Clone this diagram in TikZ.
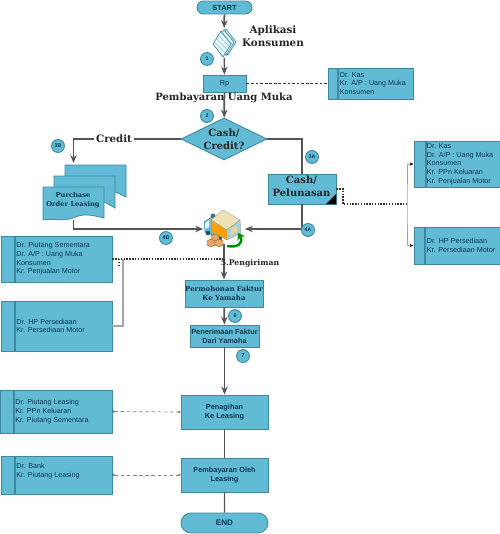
\documentclass[tikz,border=0pt]{standalone}
\usepackage{fontspec}
\setmainfont{Liberation Sans}
\newfontfamily\headfont{DejaVu Serif}
\usetikzlibrary{arrows.meta,shapes.geometric,shapes.misc,patterns}
\definecolor{boxfill}{HTML}{62BBD4}
\definecolor{boxedge}{HTML}{3F879F}
\definecolor{inktext}{HTML}{0C3550}
\definecolor{flowline}{HTML}{555555}
\tikzset{
  flowbox/.style={draw=boxedge,fill=boxfill,line width=0.5pt,inner sep=0pt,align=center,text=inktext,font=\fontsize{4.2}{5}\selectfont\bfseries},
  acctbox/.style={draw=boxedge,fill=boxfill,line width=0.5pt,inner sep=0pt,path picture={\draw[boxedge,line width=0.6pt] ([xshift=#1]path picture bounding box.north west) -- ([xshift=#1]path picture bounding box.south west);}},
  accttext/.style={anchor=west,inner sep=0pt,align=left,text=inktext,font=\fontsize{4.1}{4.93}\selectfont},
  stepmark/.style={circle,draw=boxedge,fill=boxfill,line width=0.5pt,inner sep=0pt,minimum size=0.26cm,text=inktext,font=\fontsize{3}{3}\selectfont\bfseries},
  headtext/.style={inner sep=0pt,align=center,text=black!85,font=\fontsize{#1}{7.4}\selectfont\headfont\bfseries},
  flow/.style={draw=flowline,line width=1pt,-{Stealth[length=1.6mm,width=1.3mm]}},
  flowplain/.style={draw=flowline,line width=1pt},
  dotline/.style={draw=black!80,dash pattern=on 0.8pt off 0.8pt,line width=0.5pt},
  graydash/.style={draw=gray,dash pattern=on 2pt off 1.5pt,line width=0.4pt,{Circle[length=0.5mm]}-{Circle[length=0.5mm]}},
  bracket/.style={draw=black!35,line width=0.45pt},
}
\begin{document}
\begin{tikzpicture}[x=0.02cm,y=-0.02cm,>=Stealth]
  \useasboundingbox (0,0) rectangle (500,534);
  % main column
  \node[flowbox,rounded rectangle,minimum width=1.1cm,minimum height=0.26cm] (start) at (224.5,7.5) {START};
  \node[inner sep=0pt,minimum width=0.46cm,minimum height=0.58cm] (apl) at (224,43) {};
  \node[flowbox,minimum width=0.86cm,minimum height=0.34cm,font=\fontsize{4.1}{5}\selectfont] (rp) at (224.5,83.5) {Rp};
  \node[flowbox,diamond,aspect=2,minimum width=1.72cm,minimum height=0.84cm] (dec) at (224,139) {};
  \node[headtext=5.7] (dectext) at (224,139) {Cash/\\Credit?};
  \node[flowbox,minimum width=1.36cm,minimum height=0.6cm] (cash) at (302,189) {};
  \node[headtext=5.7] (cashtext) at (301.5,186) {Cash/\\Pelunasan};
  \node[inner sep=0pt,minimum width=0.82cm,minimum height=0.6cm] (truck) at (224,229) {};
  \node[flowbox,minimum width=1.56cm,minimum height=0.54cm,font=\fontsize{3.95}{5.2}\selectfont\headfont\bfseries] (perm) at (224,293.5) {Permohonan Faktur\\Ke Yamaha};
  \node[flowbox,minimum width=1.38cm,minimum height=0.44cm] (terima) at (224.5,336) {Penerimaan Faktur\\Dari Yamaha};
  \node[flowbox,minimum width=1.74cm,minimum height=0.68cm] (tagih) at (224.5,412) {Penagihan\\Ke Leasing};
  \node[flowbox,minimum width=1.74cm,minimum height=0.68cm] (bayar) at (224.5,475) {Pembayaran Oleh\\Leasing};
  \node[flowbox,rounded rectangle,minimum width=1.74cm,minimum height=0.4cm,font=\fontsize{4.6}{5.6}\selectfont\bfseries] (end) at (224.5,523) {END};
  % purchase order sheets
  \coordinate (potop) at (73.5,163);
  \fill[boxfill,draw=boxedge,line width=0.4pt] (65,165) -- (126,165) -- (126,197) .. controls (118,193) and (112,190) .. (104,190) -- (65,190) -- cycle;
  \fill[boxfill,draw=boxedge,line width=0.4pt] (54,176) -- (115,176) -- (115,208) .. controls (108,204) and (104,201) .. (96,201) -- (54,201) -- cycle;
  \node[inner sep=0pt,minimum width=1.22cm,minimum height=0.66cm] (po) at (73.5,203.5) {};
  \fill[boxfill,draw=boxedge,line width=0.4pt] (43,187) -- (104,187) -- (104,218) .. controls (88,214) and (82,214) .. (73,218) .. controls (62,222) and (52,218) .. (43,220) -- cycle;
  \node[headtext=3.8,font=\fontsize{3.8}{4.9}\selectfont\headfont\bfseries,text=inktext] (potext) at (73,200) {Purchase\\Order Leasing};
  % account boxes
  \node[acctbox=0.2cm,minimum width=1.7cm,minimum height=0.62cm] (kas) at (370.5,83.5) {};
  \node[accttext] (kastext) at ([xshift=0.24cm]kas.west) {Dr. Kas\\Kr. A/P : Uang Muka\\Konsumen};
  \node[acctbox=0.24cm,minimum width=1.72cm,minimum height=0.92cm] (jual) at (457,164) {};
  \node[accttext] (jualtext) at ([xshift=0.26cm]jual.west) {Dr. Kas\\Dr. A/P : Uang Muka\\Konsumen\\Kr. PPn Keluaran\\Kr. Penjualan Motor};
  \node[acctbox=0.22cm,minimum width=1.72cm,minimum height=0.74cm] (hpr) at (457,245.5) {};
  \node[accttext] (hprtext) at ([xshift=0.26cm]hpr.west) {Dr. HP Persediaan\\Kr. Persediaan Motor};
  \node[acctbox=0.28cm,minimum width=2.22cm,minimum height=0.92cm] (piutang) at (56.5,259) {};
  \node[accttext] (piutangtext) at ([xshift=0.31cm]piutang.west) {Dr. Piutang Sementara\\Dr. A/P : Uang Muka\\Konsumen\\Kr. Penjualan Motor};
  \node[acctbox=0.28cm,minimum width=2.22cm,minimum height=1cm] (hpl) at (56.5,326) {};
  \node[accttext] (hpltext) at ([xshift=0.31cm]hpl.west) {Dr. HP Persediaan\\Kr. Persediaan Motor};
  \node[acctbox=0.28cm,minimum width=2.24cm,minimum height=0.86cm] (leasing) at (56,411.5) {};
  \node[accttext] (leasingtext) at ([xshift=0.31cm]leasing.west) {Dr. Piutang Leasing\\Kr. PPn Keluaran\\Kr. Piutang Sementara};
  \node[acctbox=0.28cm,minimum width=2.22cm,minimum height=0.76cm] (bank) at (56.5,475) {};
  \node[accttext] (banktext) at ([xshift=0.31cm]bank.west) {Dr. Bank\\Kr. Piutang Leasing\\~};
  % connectors
  \draw[flow] (start) -- (apl);
  \draw[flow,line width=0.7pt] (apl) -- (rp);
  \draw[flow] (rp) -- (dec);
  \draw[flow] (dec.west) -| (potop);
  \draw[flowplain] (dec.east) -| (cash.north);
  \draw[flow] (po.south) |- (truck.west);
  \draw[flow] (cash.south) |- (truck.east);
  \draw[flow] (truck.south) -- (perm.north);
  \draw[flow] (perm) -- (terima);
  \draw[flow] (terima) -- (tagih);
  \draw[flowplain,line width=0.6pt] (tagih) -- (bayar);
  \draw[flowplain,line width=0.6pt] (bayar) -- (end);
  \draw[dotline,dash pattern=on 1.6pt off 1pt] (rp) -- (kas);
  \coordinate (elbow) at (343,204);
  \coordinate (joinr) at (407,204);
  \draw[dotline,line width=0.6pt] (cash.east) -| (elbow) -- (joinr);
  \draw[bracket,{Stealth[length=0.8mm,black]}-{Stealth[length=0.8mm,black]}] (jual.west) -| (joinr) |- (hpr.west);
  \draw[dotline,line width=0.6pt] (piutang.east) -- (piutang.east -| truck.south);
  \coordinate (joinl) at (123,259);
  \coordinate (dotdrop) at (119,259);
  \coordinate (dotend) at (119,265);
  \draw[bracket,line width=0.6pt] (joinl) |- (hpl.east);
  \draw[dotline,line width=0.6pt] (dotdrop) -- (dotend);
  \draw[graydash] (leasing.east) -- (tagih.west);
  \draw[graydash] (bank.east) -- (bayar.west);
  % paper stack
  \foreach \sx/\sy in {227/42,225/42.5,222/44} {
    \draw[boxedge,line width=0.35pt,preaction={fill=boxfill!12},pattern=north west lines,pattern color=boxfill!70] (\sx-9,\sy) -- (\sx-1,\sy-13) -- (\sx+9,\sy) -- (\sx+1,\sy+13) -- cycle;
  }
  % truck with boxes
  \fill[boxfill,draw=boxedge,line width=0.3pt] (204,222) -- (212,217) -- (214,236) -- (205,232) -- cycle;
  \fill[white!85!boxfill] (205,223) -- (209,220) -- (209,227) -- (205,229) -- cycle;
  \fill[boxfill!60!black] (213,216) circle (2.5);
  \fill[boxedge!60!black] (208,233) circle (2.3);
  \fill[boxedge!60!black] (220,238) circle (2.3);
  \fill[orange!75!yellow,draw=black!40,line width=0.2pt] (211,220) -- (227,230) -- (227,240) -- (212,232) -- cycle;
  \fill[yellow!30!brown!35!white,draw=black!40,line width=0.2pt] (223,210) -- (240,220) -- (227,230) -- (211,220) -- cycle;
  \fill[teal!35!white,draw=black!40,line width=0.2pt] (227,230) -- (240,220) -- (241,233) -- (227,240) -- cycle;
  \fill[yellow!30!brown!50!white] (231,229) -- (237,226) -- (237,232) -- (231,235) -- cycle;
  \foreach \bx/\by in {215/236,211/241,219/241} {
    \fill[orange!45!brown!70!white,draw=brown!70!black,line width=0.2pt] (\bx-4,\by) -- (\bx,\by-2) -- (\bx+4,\by) -- (\bx+4,\by+4) -- (\bx,\by+6) -- (\bx-4,\by+4) -- cycle;
  }
  \draw[green!55!black,line width=1.4pt,-{Stealth[length=1.3mm,width=1.8mm]}] (227,246) .. controls (238,248) and (244,243) .. (238,233);
  % labels
  \node[headtext=5.9] (apltext) at (273,36) {Aplikasi\\Konsumen};
  \node[headtext=5.7] (muka) at (224,98) {Pembayaran Uang Muka};
  \node[headtext=5.8,fill=white,inner xsep=1pt] (credit) at (114,139) {Credit};
  \node[headtext=4.4] (kirim) at (250,263) {5.Pengiriman};
  \fill (326,204) -- (336,204) -- (336,194) -- cycle;
  \foreach \nm/\px/\py in {1/207/59,2/207/116,3B/58/146,3A/312/157,4B/166/238,4A/308/230,6/235/316,7/243/356} {
    \node[stepmark] (mark\nm) at (\px,\py) {\nm};
  }
\end{tikzpicture}
\end{document}
